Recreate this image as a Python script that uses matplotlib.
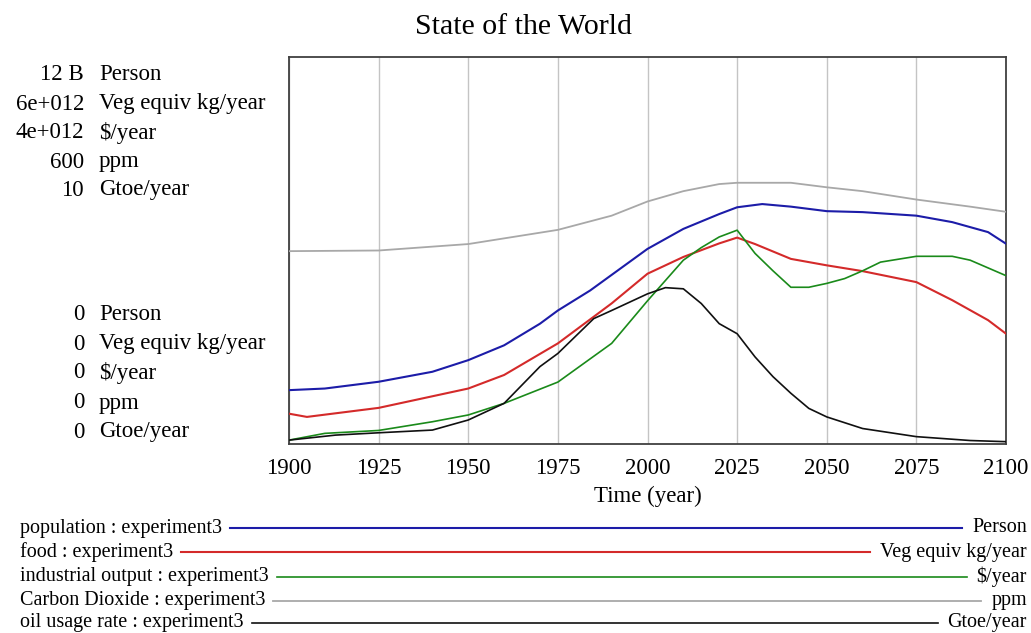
import matplotlib
matplotlib.use("Agg")
import matplotlib.pyplot as plt
from matplotlib.lines import Line2D

# ---- data -------------------------------------------------------------
co2_years = [1900, 1925, 1950, 1975, 1990, 2000, 2010, 2020, 2025, 2040, 2050, 2060, 2075, 2090, 2100]
co2_ppm = [299, 300, 310, 332, 354, 376, 392, 403, 405, 405, 398, 392, 379, 368, 360]

pop_years = [1900, 1910, 1925, 1940, 1950, 1960, 1970, 1975, 1984, 2000, 2010, 2020, 2025, 2032, 2040,
             2050, 2060, 2075, 2085, 2095, 2100]
pop_billion = [1.67, 1.72, 1.93, 2.24, 2.60, 3.06, 3.73, 4.14, 4.76, 6.05, 6.67, 7.13, 7.34, 7.44, 7.36,
               7.22, 7.19, 7.08, 6.88, 6.57, 6.21]

food_years = [1900, 1905, 1925, 1950, 1960, 1975, 1990, 2000, 2010, 2020, 2025, 2030, 2040, 2050, 2060,
              2075, 2085, 2095, 2100]
food_e12 = [0.47, 0.42, 0.56, 0.86, 1.07, 1.56, 2.18, 2.64, 2.90, 3.11, 3.20, 3.10, 2.87, 2.77, 2.68,
            2.51, 2.23, 1.92, 1.71]

ind_years = [1900, 1910, 1925, 1940, 1950, 1960, 1975, 1990, 2000, 2010, 2015, 2020, 2025, 2030, 2035,
             2040, 2045, 2050, 2055, 2060, 2065, 2075, 2085, 2090, 2100]
ind_e12 = [0.04, 0.11, 0.14, 0.23, 0.30, 0.42, 0.64, 1.04, 1.48, 1.90, 2.03, 2.14, 2.21, 1.97, 1.79,
           1.62, 1.62, 1.66, 1.71, 1.79, 1.88, 1.94, 1.94, 1.90, 1.74]

oil_years = [1900, 1913, 1925, 1940, 1950, 1960, 1970, 1975, 1985, 1990, 2000, 2005, 2010, 2015, 2020,
             2025, 2030, 2035, 2040, 2045, 2050, 2060, 2075, 2090, 2100]
oil_gtoe = [0.10, 0.23, 0.29, 0.36, 0.62, 1.05, 2.00, 2.34, 3.24, 3.45, 3.88, 4.04, 4.01, 3.63, 3.11,
            2.85, 2.25, 1.74, 1.31, 0.92, 0.70, 0.40, 0.19, 0.09, 0.06]

x_ticks = [1900, 1925, 1950, 1975, 2000, 2025, 2050, 2075, 2100]

scale_max = ["12 B", "6e+012", "4e+012", "600", "10"]
scale_min = ["0", "0", "0", "0", "0"]
units = ["Person", "Veg equiv kg/year", "$/year", "ppm", "Gtoe/year"]
series_names = ["population : experiment3", "food : experiment3", "industrial output : experiment3",
                "Carbon Dioxide : experiment3", "oil usage rate : experiment3"]
colors = ["#1c1ca8", "#d42a2a", "#1a8a1a", "#a8a8a8", "#101010"]
widths = [1.5, 1.5, 1.2, 1.3, 1.2]

# ---- figure -----------------------------------------------------------
plt.rcParams["font.family"] = ["Liberation Serif", "DejaVu Serif"]
W, H = 1031, 633
fig = plt.figure(figsize=(W / 100, H / 100), dpi=100)
fig.patch.set_facecolor("white")

ax = fig.add_axes([289 / W, 1 - 444 / H, (1006 - 289) / W, (444 - 57) / H])
ax.set_xlim(1900, 2100)
ax.set_ylim(0, 1)
ax.set_xticks(x_ticks)
ax.set_xticklabels([str(t) for t in x_ticks], fontsize=16.5)
ax.tick_params(axis="x", length=0, pad=10)
ax.set_yticks([])
ax.grid(axis="x", color="#c4c4c4", linewidth=1.0)
ax.set_axisbelow(True)
for sp in ax.spines.values():
    sp.set_color("#404040")
    sp.set_linewidth(1.3)
ax.set_xlabel("Time (year)", fontsize=16.5, labelpad=5)

# each series is drawn on its own normalised scale (0 .. scale max)
series = [
    (pop_years, [v / 12.0 for v in pop_billion]),
    (food_years, [v / 6.0 for v in food_e12]),
    (ind_years, [v / 4.0 for v in ind_e12]),
    (co2_years, [v / 600.0 for v in co2_ppm]),
    (oil_years, [v / 10.0 for v in oil_gtoe]),
]
order = [3, 0, 1, 2, 4]
for i in order:
    xs, ys = series[i]
    ax.plot(xs, ys, color=colors[i], linewidth=widths[i], zorder=3)

fig.text(523 / W, 1 - 27 / H, "State of the World", fontsize=21.5, ha="center", va="center")

# scale labels at the left of the plot
top_rows = [75, 104, 133, 162, 190]
bot_rows = [315, 344, 373, 403, 432]
for k in range(5):
    fig.text(84 / W, 1 - top_rows[k] / H, scale_max[k], fontsize=16.5, ha="right", va="center")
    fig.text(99 / W, 1 - top_rows[k] / H, units[k], fontsize=16.5, ha="left", va="center")
    fig.text(84 / W, 1 - bot_rows[k] / H, scale_min[k], fontsize=16.5, ha="right", va="center")
    fig.text(99 / W, 1 - bot_rows[k] / H, units[k], fontsize=16.5, ha="left", va="center")

# legend rows: name, coloured rule, unit
leg_rows = [528, 552, 577, 601, 623]
renderer = fig.canvas.get_renderer()
for k in range(5):
    yf = 1 - leg_rows[k] / H
    t1 = fig.text(20 / W, yf, series_names[k], fontsize=14.5, ha="left", va="center")
    t2 = fig.text(1027 / W, yf, units[k], fontsize=14.5, ha="right", va="center")
    b1 = t1.get_window_extent(renderer)
    b2 = t2.get_window_extent(renderer)
    x0 = (b1.x1 + 8) / W
    x1 = (b2.x0 - 10) / W
    fig.add_artist(Line2D([x0, x1], [yf, yf], transform=fig.transFigure,
                          color=colors[k], linewidth=widths[k]))

fig.savefig("out.png", dpi=100)
